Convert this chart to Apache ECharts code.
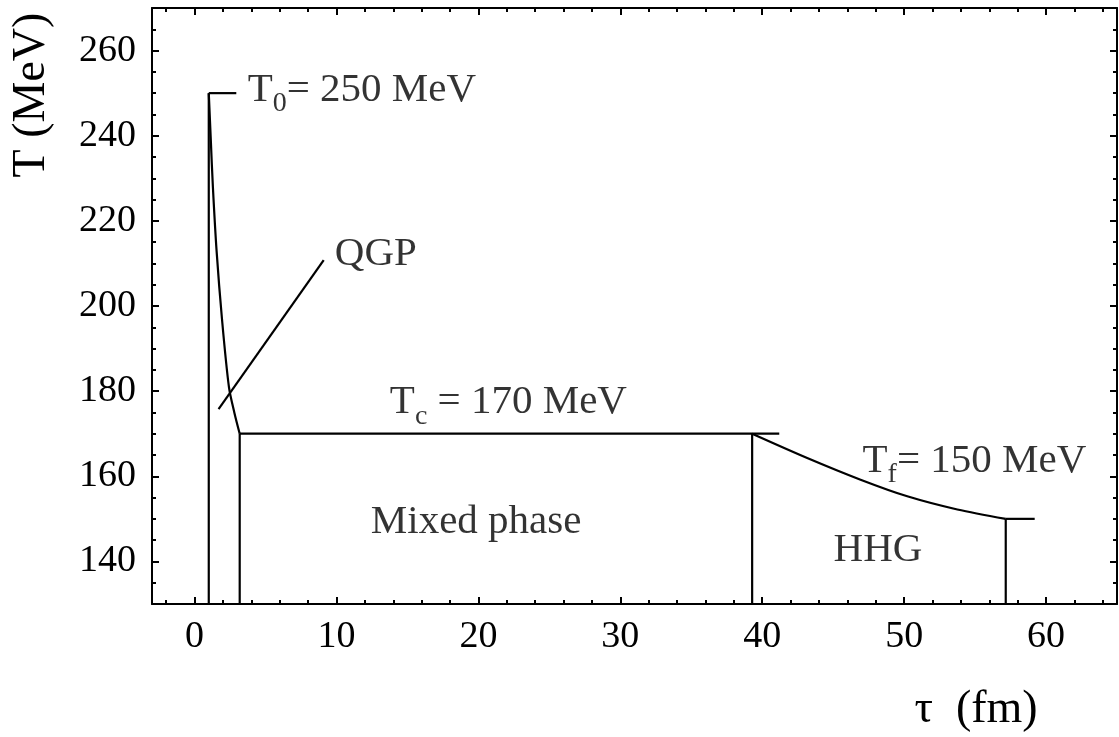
<!DOCTYPE html>
<html>
<head>
<meta charset="utf-8">
<title>Temperature evolution τ–T</title>
<script src="https://cdn.jsdelivr.net/npm/echarts@6/dist/echarts.min.js"></script>
<style>
  html, body { margin: 0; padding: 0; background: #ffffff; }
  #chart { width: 1119px; height: 737px; }
</style>
</head>
<body>
<div id="chart"></div>
<script>
// Axis tick positions
const tauMajorTicks = [0, 10, 20, 30, 40, 50, 60];
const tauMinorTicks = [-2, 2, 4, 6, 8, 12, 14, 16, 18, 22, 24, 26, 28, 32, 34, 36, 38,
                       42, 44, 46, 48, 52, 54, 56, 58, 62, 64];
const tempMajorTicks = [140, 160, 180, 200, 220, 240, 260];
const tempMinorTicks = [135, 145, 150, 155, 165, 170, 175, 185, 190, 195, 205, 210, 215,
                        225, 230, 235, 245, 250, 255, 265];

// Cooling stages: [τ (fm), T (MeV)]
const qgpCooling   = [[1.0, 250], [1.15, 238.5], [1.29, 228], [1.55, 213], [1.93, 197],
                      [2.42, 181], [2.8, 175], [3.18, 170]];
const mixedPhase   = [[3.18, 170], [41.2, 170]];
const hadronGas    = [[39.29, 170], [43.17, 164.3], [46.93, 159.2], [50.22, 155.3],
                      [53.75, 152.2], [57.16, 150]];
const freezeOut    = [[57.16, 150], [59.2, 150]];
const t0Leader     = [[1.0, 250], [2.94, 250]];
const qgpPointer   = [[1.69, 175.8], [9.1, 210.8]];
const boundaryTau  = [1.0, 3.18, 39.29, 57.16];
const boundaryTop  = [250, 170, 170, 150];

// Annotation texts and their anchors [τ, T]
const noteTexts   = ['{m|T}{s|0}{m|= 250 MeV}', '{m|QGP}', '{m|T}{s|c}{m| = 170 MeV}',
                     '{m|Mixed phase}', '{m|HHG}', '{m|T}{s|f}{m|= 150 MeV}'];
const noteAnchors = [[3.74, 250.8], [9.88, 212.2], [13.76, 177.3],
                     [12.42, 149.3], [45.03, 142.7], [47.07, 163.6]];

const tauRange  = [-3, 65];
const tempRange = [130, 270];

const SERIF = 'Liberation Serif';
const INK = '#000000';

const chart = echarts.init(document.getElementById('chart'), null, { renderer: 'canvas' });

function xAxisDef(position, ticks, len, withLabels, withLine) {
  return {
    type: 'value', position: position, min: tauRange[0], max: tauRange[1],
    axisLine: { show: withLine, onZero: false, lineStyle: { color: INK, width: 2 } },
    axisTick: { show: true, inside: true, length: len, customValues: ticks,
                lineStyle: { color: INK, width: 2 } },
    axisLabel: withLabels ? { show: true, customValues: tauMajorTicks, margin: 14,
                color: INK, fontSize: 38, fontFamily: SERIF } : { show: false },
    splitLine: { show: false }
  };
}
function yAxisDef(position, ticks, len, withLabels, withLine) {
  return {
    type: 'value', position: position, min: tempRange[0], max: tempRange[1],
    axisLine: { show: withLine, onZero: false, lineStyle: { color: INK, width: 2 } },
    axisTick: { show: true, inside: true, length: len, customValues: ticks,
                lineStyle: { color: INK, width: 2 } },
    axisLabel: withLabels ? { show: true, customValues: tempMajorTicks, margin: 16,
                color: INK, fontSize: 38, fontFamily: SERIF } : { show: false },
    splitLine: { show: false }
  };
}

function segment(data, smooth) {
  return {
    type: 'line', data: data, symbol: 'none', silent: true, animation: false,
    xAxisIndex: 0, yAxisIndex: 0, clip: true, smooth: smooth || false,
    lineStyle: { color: INK, width: 2.2 }
  };
}

const series = [
  segment(qgpCooling, 0.3),
  segment(mixedPhase),
  segment(hadronGas, 0.3),
  segment(freezeOut),
  segment(t0Leader),
  segment(qgpPointer)
];
boundaryTau.forEach(function (tau, i) {
  series.push(segment([[tau, tempRange[0]], [tau, boundaryTop[i]]]));
});

series.push({
  type: 'scatter', xAxisIndex: 0, yAxisIndex: 0, symbolSize: 0, silent: true,
  animation: false,
  data: noteAnchors.map(function (p, i) {
    return { value: p, label: { formatter: noteTexts[i] } };
  }),
  label: {
    show: true, position: 'right', distance: 0, align: 'left', verticalAlign: 'middle',
    color: INK,
    rich: {
      m: { fontSize: 41, fontFamily: SERIF, color: INK },
      s: { fontSize: 28, fontFamily: SERIF, color: INK, padding: [28, 0, 0, 0] }
    }
  }
});

chart.setOption({
  backgroundColor: '#ffffff',
  animation: false,
  grid: { left: 152, right: 2, top: 8, bottom: 133, containLabel: false },
  xAxis: [
    xAxisDef('bottom', tauMajorTicks, 7, true, true),
    xAxisDef('bottom', tauMinorTicks, 4, false, false),
    xAxisDef('top', tauMajorTicks, 7, false, true),
    xAxisDef('top', tauMinorTicks, 4, false, false)
  ],
  yAxis: [
    yAxisDef('left', tempMajorTicks, 7, true, true),
    yAxisDef('left', tempMinorTicks, 4, false, false),
    yAxisDef('right', tempMajorTicks, 7, false, true),
    yAxisDef('right', tempMinorTicks, 4, false, false)
  ],
  graphic: [
    {
      type: 'text', x: 32, y: 95, rotation: Math.PI / 2, silent: true,
      style: { text: 'T (MeV)', fill: INK, fontSize: 46, fontFamily: SERIF,
               align: 'center', verticalAlign: 'middle' }
    },
    {
      type: 'text', x: 976, y: 710, silent: true,
      style: { text: 'τ  (fm)', fill: INK, fontSize: 46, fontFamily: SERIF,
               align: 'center', verticalAlign: 'middle' }
    }
  ],
  series: series
});
</script>
</body>
</html>
